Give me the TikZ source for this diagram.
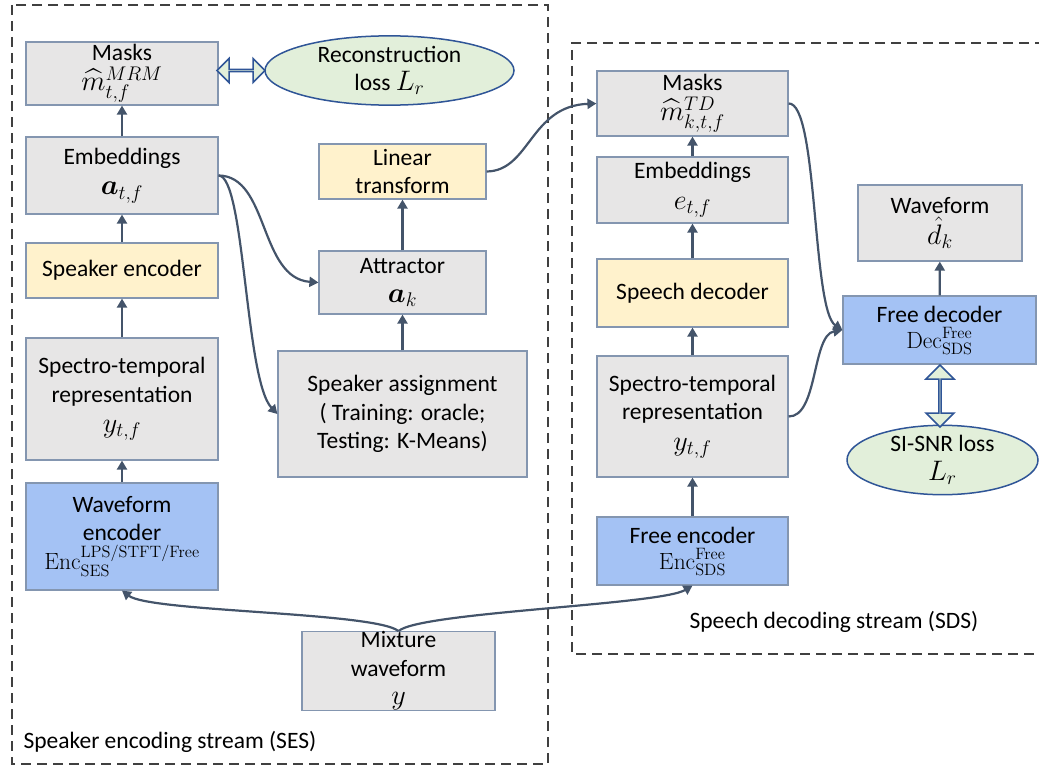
\RequirePackage{fix-cm}
\documentclass[tikz,border=0pt]{standalone}
\usepackage{amsmath}
\usepackage{graphicx}
\usepackage[no-math]{fontspec}
\setmainfont{Carlito}
\usetikzlibrary{shapes.geometric,shapes.arrows,arrows.meta}

\definecolor{grayf}{HTML}{E7E6E6}
\definecolor{yellowf}{HTML}{FFF2CC}
\definecolor{bluef}{HTML}{A4C2F4}
\definecolor{greenf}{HTML}{E2EFDA}
\definecolor{bordc}{HTML}{8496B0}
\definecolor{ellc}{HTML}{2F5597}
\definecolor{arrc}{HTML}{44546A}
\definecolor{dashc}{HTML}{404040}

% enlarged italic symbols
\newcommand{\bigsym}[1]{\scalebox{1.2}{$#1$}}

\tikzset{
  lbl/.style={font=\fontsize{23.5}{28.5}\selectfont},
  gbox/.style={lbl, draw=bordc, line width=1.2pt, fill=grayf, align=center, inner sep=0pt},
  ybox/.style={gbox, fill=yellowf},
  bbox/.style={gbox, fill=bluef},
  lossell/.style={lbl, ellipse, draw=ellc, line width=1.5pt, fill=greenf, align=center, inner sep=0pt},
  flow/.style={draw=arrc, line width=2.2pt, -{Triangle[length=9pt,width=10pt]}},
  twoway/.style={double arrow, draw=ellc, fill=greenf, line width=1.5pt, inner sep=0pt,
    double arrow head extend=8pt},
  streambox/.style={draw=dashc, line width=1.5pt, dash pattern=on 10pt off 6pt},
}

\begin{document}
\begin{tikzpicture}[x=1pt, y=-1pt]
\useasboundingbox (0,0) rectangle (1039,776);

% stream frames
\draw[streambox] (12,5) rectangle (548,764);
\draw[streambox] (1045,43) -| (572,654) -- (1045,654);
\node[lbl, anchor=west] (seslbl) at (20,742) {Speaker encoding stream (SES)};
\node[lbl, anchor=west] (sdslbl) at (686,622) {Speech decoding stream (SDS)};

% speaker encoding stream
\node[gbox, minimum width=192pt, minimum height=63pt] (masksL) at (122,73.5)
  {Masks\\[1pt] \bigsym{\widehat{m}^{MRM}_{t,f}}};
\node[gbox, minimum width=192pt, minimum height=77pt] (embL) at (122,175.5)
  {Embeddings\\[2pt] \bigsym{\boldsymbol{a}_{t,f}}};
\node[ybox, minimum width=192pt, minimum height=55pt] (spkenc) at (122,270.5)
  {Speaker encoder};
\node[gbox, minimum width=192pt, minimum height=122pt] (specL) at (122,399)
  {Spectro-temporal\\ representation\\[2pt] \bigsym{y_{t,f}}};
\node[bbox, minimum width=192pt, minimum height=107pt] (wavenc) at (122,536.5)
  {Waveform\\ encoder\\[0pt] $\mathrm{Enc}^{\mathrm{LPS/STFT/Free}}_{\mathrm{SES}}$};

\node[lossell, minimum width=249pt, minimum height=63pt] (recon) at (389.5,70.5)
  {Reconstruction\\ loss \bigsym{L_r}};
\node[ybox, minimum width=167pt, minimum height=55pt] (linear) at (402.5,171.5)
  {Linear\\ transform};
\node[gbox, minimum width=167pt, minimum height=63pt] (attr) at (402.5,282.5)
  {Attractor\\ \bigsym{\boldsymbol{a}_k}};
\node[gbox, minimum width=249pt, minimum height=126pt] (assign) at (402.5,414)
  {Speaker assignment\\ ( Training: oracle;\\ Testing: K-Means)};
\node[gbox, minimum width=193pt, minimum height=78pt] (mix) at (398.5,671)
  {Mixture\\ waveform\\ \bigsym{y}};

% speech decoding stream
\node[gbox, minimum width=191pt, minimum height=65pt] (masksR) at (692.5,103.5)
  {Masks\\[1pt] \bigsym{\widehat{m}^{TD}_{k,t,f}}};
\node[gbox, minimum width=191pt, minimum height=66pt] (embR) at (692.5,190)
  {Embeddings\\[2pt] \bigsym{e_{t,f}}};
\node[ybox, minimum width=191pt, minimum height=68pt] (spdec) at (692.5,293)
  {Speech decoder};
\node[gbox, minimum width=191pt, minimum height=121pt] (specR) at (692.5,416.5)
  {Spectro-temporal\\ representation\\[2pt] \bigsym{y_{t,f}}};
\node[bbox, minimum width=191pt, minimum height=68pt] (freeenc) at (692.5,551)
  {Free encoder\\[-2pt] $\mathrm{Enc}^{\mathrm{Free}}_{\mathrm{SDS}}$};
\node[gbox, minimum width=164pt, minimum height=76pt] (wave) at (940,223)
  {Waveform\\[2pt] \bigsym{\hat{d}_k}};
\node[bbox, minimum width=193pt, minimum height=68pt] (freedec) at (939.5,330)
  {Free decoder\\[-2pt] $\mathrm{Dec}^{\mathrm{Free}}_{\mathrm{SDS}}$};
\node[lossell, minimum width=191pt, minimum height=62pt] (sisnr) at (942.5,460)
  {SI-SNR loss\\ \bigsym{L_r}};

% loss links
\node[twoway, minimum height=48pt, minimum width=24pt] (lossA) at (241,70.5) {};
\node[twoway, minimum height=62pt, minimum width=28pt, double arrow head extend=9pt, rotate=90] (lossB) at (940,396) {};

% straight flows
\draw[flow] (spkenc) -- (embL);
\draw[flow] (embL) -- (masksL);
\draw[flow] (specL) -- (spkenc);
\draw[flow] (wavenc) -- (specL);
\draw[flow] (assign) -- (attr);
\draw[flow] (attr) -- (linear);
\draw[flow] (freeenc) -- (specR);
\draw[flow] (specR) -- (spdec);
\draw[flow] (spdec) -- (embR);
\draw[flow] (embR) -- (masksR);
\draw[flow] (freedec) -- (wave);

% curved flows
\draw[flow] (embL.east) .. controls (269,176) and (259,278) .. (attr.west);
\draw[flow] (embL.east) .. controls (245,176) and (245,380) .. (assign.west);
\draw[flow] (linear.east) .. controls (530,171) and (530,106) .. (masksR.west);
\draw[flow] (masksR.east) .. controls (818,102) and (812,310) .. (freedec.west);
\draw[flow] (specR.east) .. controls (818,417) and (812,335) .. (freedec.west);
\draw[flow] (mix.north) .. controls (375,612) and (150,612) .. (wavenc.south);
\draw[flow] (mix.north) .. controls (420,612) and (660,605) .. (freeenc.south);
\end{tikzpicture}
\end{document}
